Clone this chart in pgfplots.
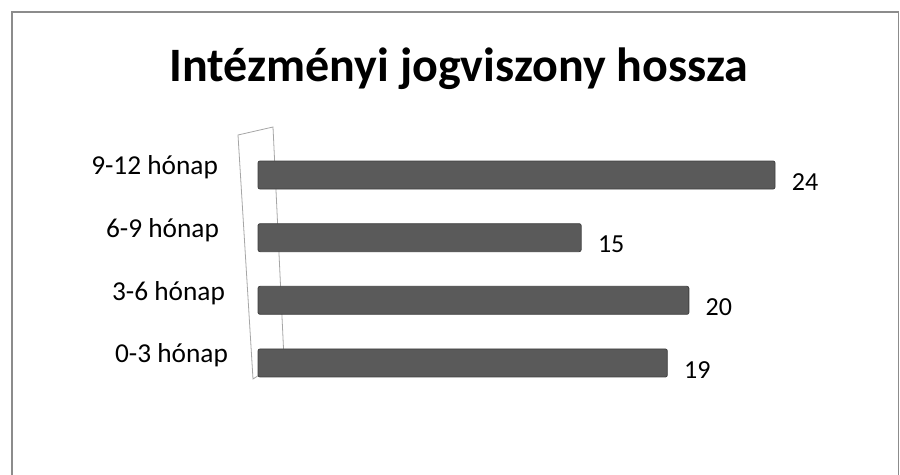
\documentclass[border=0pt]{standalone}
\usepackage{pgfplots}
\pgfplotsset{compat=1.18}
\usepackage{fontspec}
\setmainfont{Carlito}
\definecolor{barc}{HTML}{5A5A5A}
\definecolor{bard}{HTML}{404040}
\definecolor{framec}{HTML}{8C8C8C}
\begin{document}
\begin{tikzpicture}
\path[use as bounding box] (0pt,0pt) rectangle (675pt,356.25pt);
\draw[framec, line width=1pt] (9pt,0pt) -- (9pt,347.25pt) -- (673.9pt,347.25pt) -- (673.9pt,0pt);
\node[anchor=base, font=\fontsize{36}{40}\selectfont\bfseries] at (344.25pt,294.75pt) {Intézményi jogviszony hossza};
% back wall
\draw[gray!70, line width=0.6pt, fill=white] (178.5pt,255pt) -- (204.75pt,261pt) -- (213pt,87pt) -- (189.75pt,72pt) -- cycle;
\begin{axis}[
  at={(193.5pt,60.5pt)}, anchor=south west,
  scale only axis, width=429pt, height=188pt,
  xmin=0, xmax=26.55, ymin=-0.5, ymax=3.5,
  xbar, bar width=21pt,
  axis lines*=left, axis line style={draw=none},
  xtick=\empty,
  ytick={0,1,2,3},
  yticklabels={0-3 hónap,3-6 hónap\hspace*{2.25pt},6-9 hónap\hspace*{6.75pt},9-12 hónap\hspace*{7.5pt}},
  major tick length=0pt,
  yticklabel style={anchor=east, xshift=-19pt, yshift=5.5pt, font=\fontsize{20.5}{24}\selectfont},
  nodes near coords,
  nodes near coords style={anchor=west, xshift=9pt, yshift=-5pt, font=\fontsize{19.5}{22}\selectfont, black},
  /pgf/number format/assume math mode=true,
  clip=false,
]
\addplot[fill=barc, draw=bard, line width=0.6pt, rounded corners=1.5pt] coordinates {(19,0) (20,1) (15,2) (24,3)};
\end{axis}
\end{tikzpicture}
\end{document}
